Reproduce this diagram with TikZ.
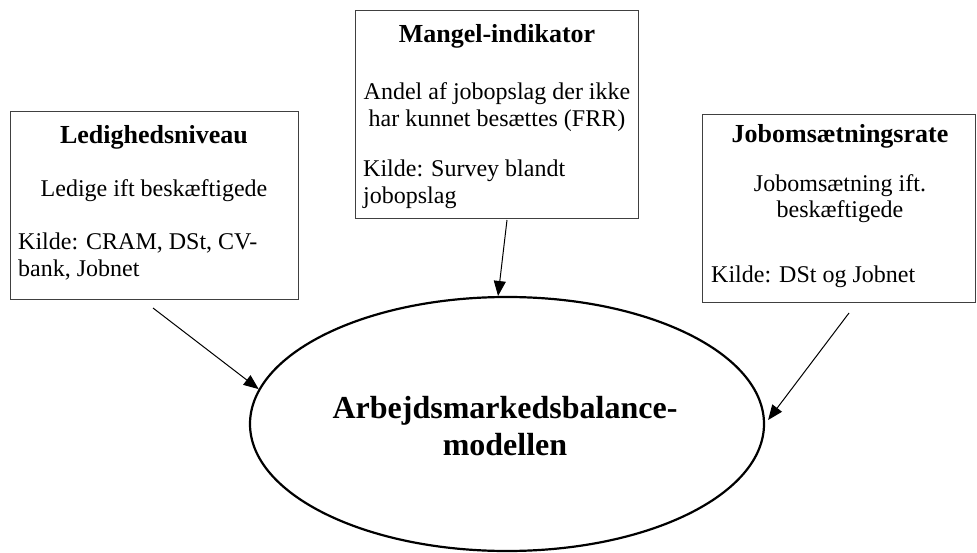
\documentclass[tikz,border=0pt]{standalone}
\usepackage{fontspec}
\setmainfont{Liberation Serif}
\usetikzlibrary{arrows.meta,shapes.geometric}
\tikzset{
  infobox/.style={draw=black!75, line width=1pt, rectangle, inner sep=0pt},
  ttl/.style={inner sep=0pt, anchor=base, font=\fontsize{26}{30}\selectfont\bfseries},
  body/.style={inner sep=0pt, anchor=base, font=\fontsize{24}{28}\selectfont},
  src/.style={inner sep=0pt, anchor=base west, font=\fontsize{24}{28}\selectfont},
  big/.style={inner sep=0pt, anchor=base, font=\fontsize{32}{37}\selectfont\bfseries},
  conn/.style={line width=1pt, -{Triangle[length=15pt,width=12pt]}},
}
\begin{document}
\begin{tikzpicture}[x=1pt,y=-1pt]
\useasboundingbox (0,0) rectangle (977,553);
% boxes
\node[infobox, minimum width=288pt, minimum height=188pt] (lbox) at (154,206) {};
\node[infobox, minimum width=283pt, minimum height=208pt] (mbox) at (496.5,115) {};
\node[infobox, minimum width=273pt, minimum height=188pt] (rbox) at (838.5,209) {};
\node[draw, ellipse, line width=2.2pt, minimum width=514pt, minimum height=254pt, inner sep=0pt] (ell) at (507,424) {};
% left box text
\node[ttl] (lt) at (154,144) {Ledighedsniveau};
\node[body] (lb) at (154,197) {Ledige ift beskæftigede};
\node[src] (ls1) at (18,250) {Kilde: CRAM, DSt, CV-};
\node[src] (ls2) at (18,277) {bank, Jobnet};
% middle box text
\node[ttl] (mt) at (497,43) {Mangel-indikator};
\node[body] (mb1) at (497,100) {Andel af jobopslag der ikke};
\node[body] (mb2) at (497,127) {har kunnet besættes (FRR)};
\node[src] (ms1) at (363,177) {Kilde: Survey blandt};
\node[src] (ms2) at (363,204) {jobopslag};
% right box text
\node[ttl] (rt) at (840,143) {Jobomsætningsrate};
\node[body] (rb1) at (840,192) {Jobomsætning ift.};
\node[body] (rb2) at (840,218) {beskæftigede};
\node[src] (rs) at (711,283) {Kilde: DSt og Jobnet};
% ellipse text
\node[big] (e1) at (505,418) {Arbejdsmarkedsbalance-};
\node[big] (e2) at (505,455) {modellen};
% arrows
\coordinate (la) at (153,308);
\coordinate (ma) at (507,220);
\coordinate (ra) at (849,313);
\draw[conn] (la) -- (ell.172);
\draw[conn] (ma) -- (ell.94);
\draw[conn, shorten >=5pt] (ra) -- (ell.east);
\end{tikzpicture}
\end{document}
